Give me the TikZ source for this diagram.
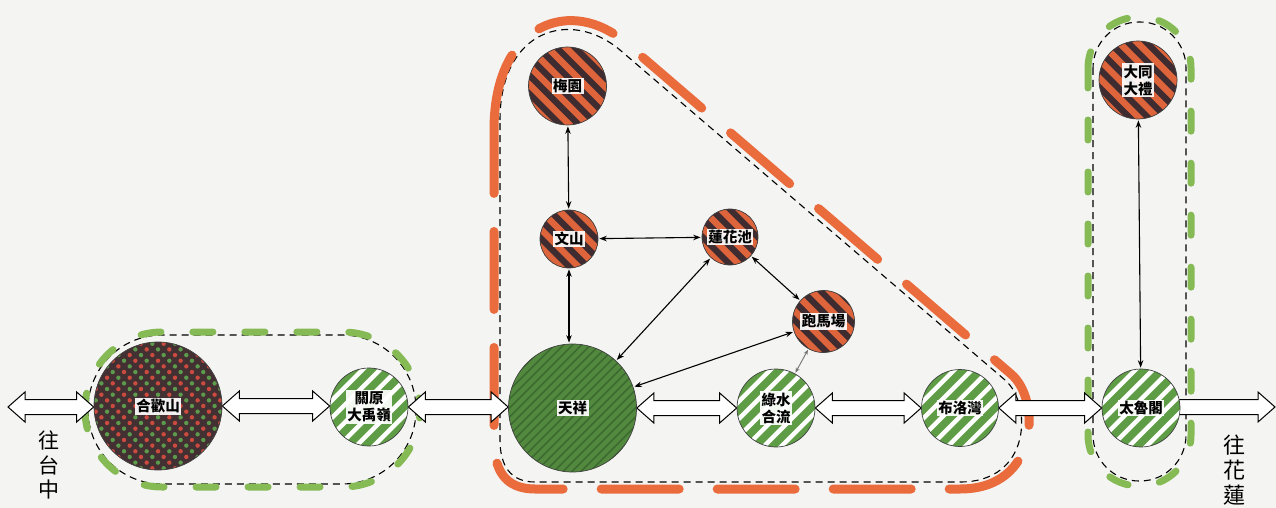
\documentclass[tikz,border=0pt]{standalone}
\usepackage{fontspec}
\newfontfamily\cjk{Noto Sans CJK TC}
\usetikzlibrary{arrows.meta,calc}
\pgfdeclarelayer{outl}
\pgfdeclarelayer{arrl}
\pgfsetlayers{outl,arrl,main}
\definecolor{paper}{HTML}{F4F4F3}
\definecolor{rorange}{HTML}{DE643C}
\definecolor{rdark}{HTML}{3E2C30}
\definecolor{gorange}{HTML}{EA6B3C}
\definecolor{ggreen}{HTML}{86BA55}
\definecolor{sgreen}{HTML}{5E9C46}
\definecolor{tgreen}{HTML}{52893E}
\definecolor{tline}{HTML}{3C6A30}
\definecolor{hdark}{HTML}{433032}
\definecolor{hred}{HTML}{CC4A3E}
\definecolor{hgreen}{HTML}{5C9A4C}
\newcommand\bigdbl[2]{\draw[bigarr] let \p1=#1, \p2=#2 in
  (\x1,\y1) -- ++(17pt,15pt) -- ++(0pt,-7.5pt) -- (\x2-17pt,\y1+7.5pt) -- ++(0pt,7.5pt)
  -- (\x2,\y1) -- ++(-17pt,-15pt) -- ++(0pt,7.5pt) -- (\x1+17pt,\y1-7.5pt) -- ++(0pt,-7.5pt) -- cycle;}
\begin{document}
\begin{tikzpicture}[x=1pt,y=-1pt,
  circ/.style={circle, draw=black!75, line width=0.7pt, inner sep=0pt},
  redstripe/.style={circ, minimum size=#1, fill=rdark, path picture={
     \begin{scope}[shift={(path picture bounding box.center)}]
     \foreach \k in {-6,...,6} \draw[rorange, line width=6.5pt] (\k*18.4pt-100pt,100pt) -- (\k*18.4pt+100pt,-100pt);
     \end{scope}}},
  greenstripe/.style={circ, minimum size=#1, fill=white, path picture={
     \begin{scope}[shift={(path picture bounding box.center)}]
     \foreach \k in {-6,...,6} \draw[sgreen, line width=7.5pt] (\k*17.5pt-100pt,-100pt) -- (\k*17.5pt+100pt,100pt);
     \end{scope}}},
  solidgreen/.style={circ, minimum size=#1, fill=tgreen, path picture={
     \begin{scope}[shift={(path picture bounding box.center)}]
     \foreach \k in {-16,...,16} \draw[tline, line width=1.6pt] (\k*9pt-100pt,-100pt) -- (\k*9pt+100pt,100pt);
     \end{scope}}},
  plaid/.style={circ, minimum size=#1, fill=hdark, path picture={
     \begin{scope}[shift={(path picture bounding box.center)}]
     \foreach \i in {-11,...,11}{\foreach \j in {-11,...,11}{
        \pgfmathtruncatemacro\cc{mod(\i+30,2)}
        \ifnum\cc=0 \def\dc{hred}\else\def\dc{hgreen}\fi
        \fill[\dc] ({(\i-\j)*5.66pt},{(\i+\j)*5.66pt}) circle[radius=2.2pt];}}
     \end{scope}}},
  lbl/.style={fill=white, fill opacity=0.92, text opacity=1, inner sep=1.5pt, align=center,
     font=\cjk\bfseries\fontsize{14.5}{17}\selectfont},
  vtext/.style={align=center, inner sep=0pt, font=\cjk\fontsize{21}{24.5}\selectfont},
  bigarr/.style={draw=black, line width=1pt, fill=white, line join=miter},
  thinarr/.style={line width=1.1pt, {Stealth[length=7.5pt,width=5.5pt]}-{Stealth[length=7.5pt,width=5.5pt]}, shorten <=1pt, shorten >=1pt},
  blackdash/.style={draw=black, line width=1.1pt, dash pattern=on 7pt off 5pt},
  greendash/.style={draw=ggreen, line width=7pt, line cap=round, dash pattern=on 20pt off 32pt},
  orangedash/.style={draw=gorange, line width=9pt, line cap=round, dash pattern=on 78pt off 38pt}
]
\begin{pgfonlayer}{outl}
\fill[paper] (0,0) rectangle (1276,508);
\end{pgfonlayer}
\useasboundingbox (0,0) rectangle (1276,508);

% stations
\node[plaid=128pt] (hehuan) at (158,406) {};
\node[greenstripe=78pt] (guanyuan) at (369,407) {};
\node[solidgreen=128pt] (tianxiang) at (572.5,408) {};
\node[greenstripe=78pt] (lushui) at (776,408) {};
\node[greenstripe=77pt] (buluowan) at (960,408) {};
\node[greenstripe=78pt] (taroko) at (1141,408) {};
\node[redstripe=78pt] (datong) at (1138,80) {};
\node[redstripe=78pt] (meiyuan) at (567.5,86) {};
\node[redstripe=58pt] (wenshan) at (569,239) {};
\node[redstripe=56pt] (lianhua) at (730,237) {};
\node[redstripe=62pt] (paoma) at (823.5,321.5) {};

% labels
\node[lbl] (hehuanL) at (hehuan) {合歡山};
\node[lbl] (guanyuanL) at (guanyuan) {關原\\大禹嶺};
\node[lbl] (tianxiangL) at (tianxiang) {天祥};
\node[lbl] (lushuiL) at (lushui) {綠水\\合流};
\node[lbl] (buluowanL) at (buluowan) {布洛灣};
\node[lbl] (tarokoL) at (taroko) {太魯閣};
\node[lbl] (datongL) at (datong) {大同\\大禮};
\node[lbl] (meiyuanL) at (meiyuan) {梅園};
\node[lbl] (wenshanL) at (wenshan) {文山};
\node[lbl] (lianhuaL) at (lianhua) {蓮花池};
\node[lbl] (paomaL) at (paoma) {跑馬場};

\node[vtext] (taizhongT) at (49,465) {往\\台\\中};
\node[vtext, font=\cjk\fontsize{22}{25}\selectfont] (hualienT) at (1234,470) {往\\花\\蓮};

\coordinate (taizhong) at (8,407);
\coordinate (hualien) at (1275,407);

% group outlines
\begin{pgfonlayer}{outl}
\draw[blackdash, rounded corners=74pt] (88,335) rectangle (416,484);
\draw[greendash, rounded corners=77pt] (85,332) rectangle (420,487);
\draw[blackdash, rounded corners=46pt] (1093,22) rectangle (1186,481);
\draw[greendash, rounded corners=51pt] (1088,17) rectangle (1191,486);
\draw[blackdash] (500,120) .. controls (500,30) and (570,8) .. (620,50) -- (1005,380)
   .. controls (1032,403) and (1032,482) .. (960,482) -- (535,482)
   .. controls (510,482) and (500,465) .. (500,440) -- cycle;
\draw[orangedash] (494,130) .. controls (494,22) and (572,-4) .. (626,43) -- (1011,374)
   .. controls (1041,399) and (1040,489) .. (960,489) -- (535,489)
   .. controls (505,489) and (494,470) .. (494,440) -- cycle;
\end{pgfonlayer}

% trunk arrows
\begin{pgfonlayer}{arrl}
\bigdbl{(taizhong)}{(hehuan.west)}
\bigdbl{(hehuan.east)}{(guanyuan.west)}
\bigdbl{(guanyuan.east)}{(tianxiang.west)}
\bigdbl{(tianxiang.east)}{(lushui.west)}
\bigdbl{(lushui.east)}{(buluowan.west)}
\bigdbl{(buluowan.east)}{(taroko.west)}
\draw[bigarr] let \p1=(taroko.center), \p2=(hualien) in
  (\x1,\y2+7.5pt) -- (\x2-17pt,\y2+7.5pt) -- (\x2-17pt,\y2+15pt) -- (\x2,\y2)
  -- (\x2-17pt,\y2-15pt) -- (\x2-17pt,\y2-7.5pt) -- (\x1,\y2-7.5pt);
\end{pgfonlayer}

% branch arrows
\draw[thinarr] (meiyuan) -- (wenshan);
\draw[thinarr] (wenshan) -- (wenshan |- tianxiang.north);
\draw[thinarr] (wenshan) -- (lianhua);
\draw[thinarr] (lianhua) -- (tianxiang);
\draw[thinarr] (lianhua) -- (paoma);
\draw[thinarr] (paoma) -- (tianxiang);
\draw[thinarr, line width=0.9pt, draw=black!55, {Stealth[length=5pt,width=4pt]}-{Stealth[length=5pt,width=4pt]}] (lushui) -- (paoma);
\draw[thinarr] (datong) -- (taroko);
\end{tikzpicture}
\end{document}
